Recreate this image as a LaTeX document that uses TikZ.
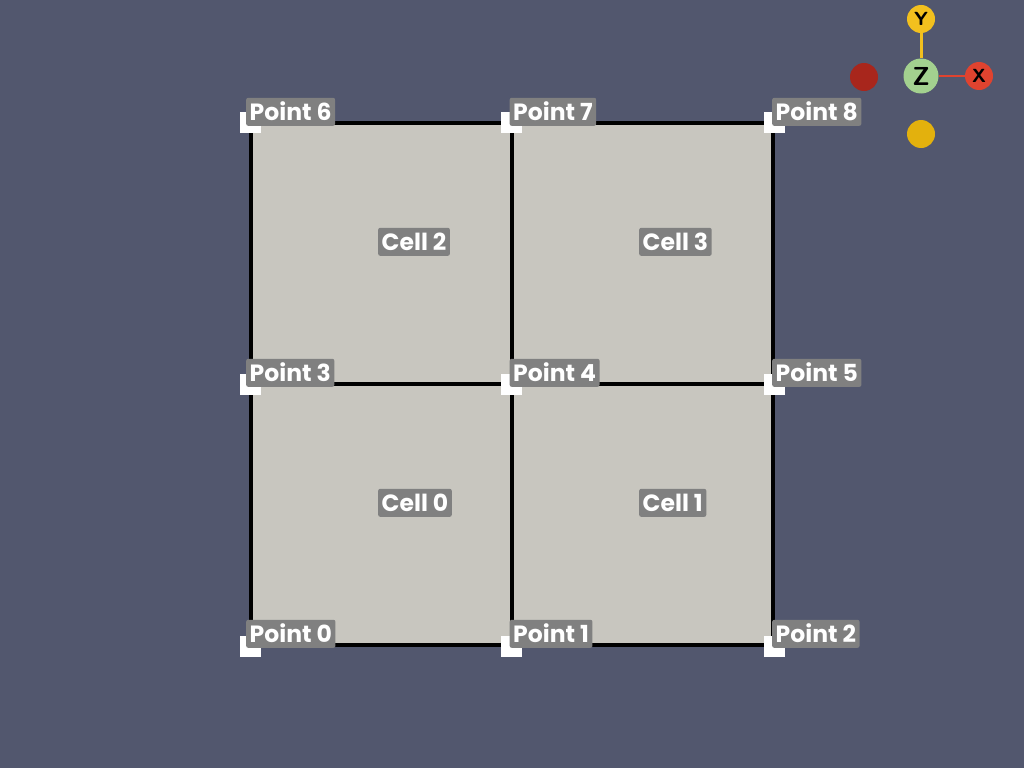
\documentclass[tikz,border=0pt]{standalone}
\usepackage{fontspec}
\setmainfont{Poppins}
\definecolor{bg}{HTML}{52576E}
\definecolor{cellfill}{HTML}{C8C6BF}
\definecolor{lblbox}{HTML}{808080}
\definecolor{axY}{HTML}{F2C01E}
\definecolor{axZ}{HTML}{A3D18F}
\definecolor{axX}{HTML}{E0432F}
\definecolor{axXn}{HTML}{A8261C}
\definecolor{axYn}{HTML}{E3B10D}
\begin{document}
\begin{tikzpicture}[x=1pt,y=-1pt,
  cellbox/.style={fill=cellfill,draw=black,line width=4pt},
  ptmark/.style={fill=white,minimum size=21pt,inner sep=0pt,draw=none},
  lbl/.style={fill=lblbox,rounded corners=2pt,text=white,font=\bfseries\fontsize{23.5}{23.5}\selectfont,
    inner xsep=3.5pt,inner ysep=0pt,minimum height=28pt,text height=18pt,text depth=1pt,anchor=south west},
  axball/.style={circle,inner sep=0pt,minimum size=28pt,font=\sffamily\bfseries\fontsize{19}{19}\selectfont},
]
\useasboundingbox (0,0) rectangle (1024,768);
\fill[bg] (0,0) rectangle (1024,768);
% vertices
\coordinate (p0) at (251,645);
\coordinate (p1) at (512,645);
\coordinate (p2) at (773,645);
\coordinate (p3) at (251,384);
\coordinate (p4) at (512,384);
\coordinate (p5) at (773,384);
\coordinate (p6) at (251,123);
\coordinate (p7) at (512,123);
\coordinate (p8) at (773,123);
% cells
\draw[cellbox] (p0) rectangle (p4);
\draw[cellbox] (p1) rectangle (p5);
\draw[cellbox] (p3) rectangle (p7);
\draw[cellbox] (p4) rectangle (p8);
% point markers
\node[ptmark] (m0) at (250,646) {};
\node[ptmark] (m1) at (511.5,646) {};
\node[ptmark] (m2) at (774,646) {};
\node[ptmark] (m3) at (250,384.5) {};
\node[ptmark] (m4) at (511.5,384.5) {};
\node[ptmark] (m5) at (774,384.5) {};
\node[ptmark] (m6) at (250,122.5) {};
\node[ptmark] (m7) at (511.5,122.5) {};
\node[ptmark] (m8) at (774,122.5) {};
% point labels
\foreach \i/\dx in {0/-5,3/-5,6/-5,1/-2.5,4/-2.5,7/-2.5,2/-1,5/-1,8/-1}
  {\node[lbl] (l\i) at ([shift={(\dx,3)}]p\i) {Point \i};}
% cell labels
\node[lbl] (c0) at (378,517) {Cell 0};
\node[lbl] (c1) at (639,517) {Cell 1};
\node[lbl] (c2) at (378,256) {Cell 2};
\node[lbl] (c3) at (639,256) {Cell 3};
% axes widget
\node[axball,fill=axZ,minimum size=35pt,font=\sffamily\bfseries\fontsize{26}{26}\selectfont] (az) at (921,76) {Z};
\node[axball,fill=axY] (ay) at (921,19) {Y};
\node[axball,fill=axX] (ax) at (979,76) {X};
\node[axball,fill=axXn] (axn) at (864,77) {};
\node[axball,fill=axYn] (ayn) at (921,134) {};
\draw[axY,line width=3pt] (az) -- (ay);
\draw[axX,line width=2pt] (az) -- (ax);
\end{tikzpicture}
\end{document}
